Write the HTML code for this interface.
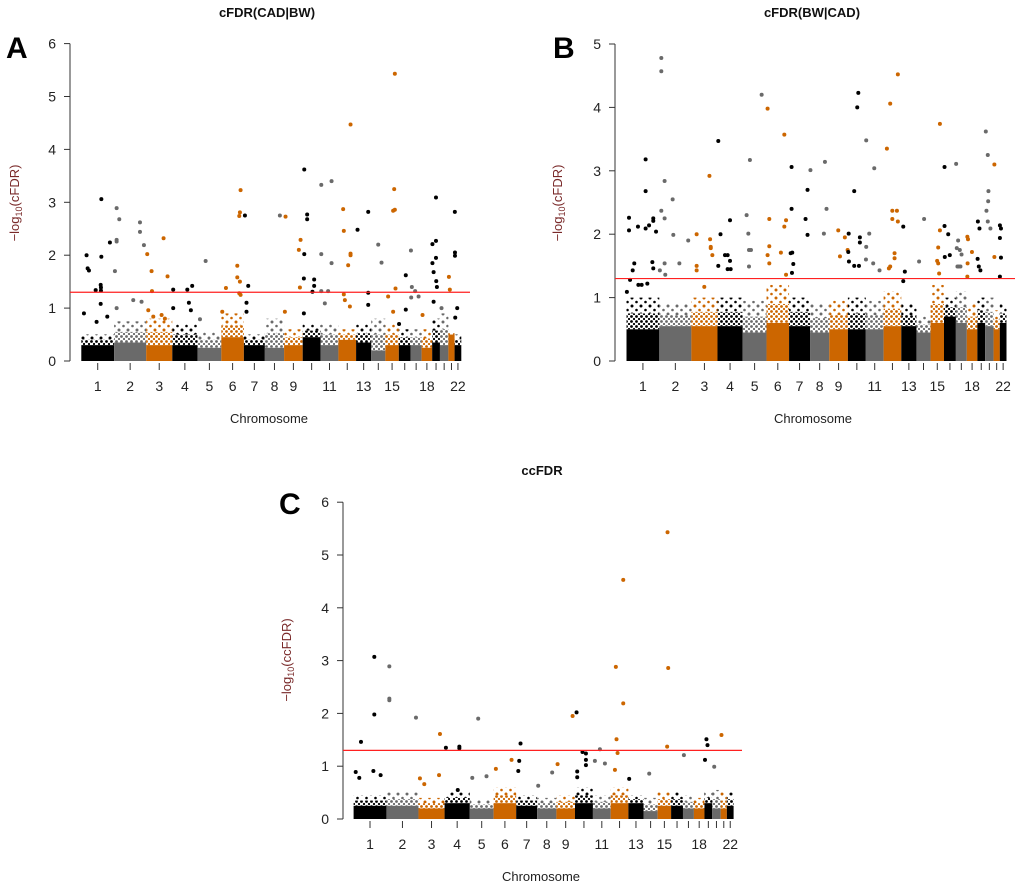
<!DOCTYPE html>
<html><head><meta charset="utf-8">
<style>
body{margin:0;background:#fff;}
svg{display:block;font-family:"Liberation Sans",Arial,sans-serif;}
</style></head>
<body>
<svg id="fig" width="1020" height="887" viewBox="0 0 1020 887">
<defs>
<pattern id="dots0" width="5" height="5" patternUnits="userSpaceOnUse"><circle cx="1.5" cy="1.5" r="1.4" fill="#000000"/><circle cx="4" cy="4" r="1.1" fill="#000000"/></pattern>
<pattern id="dots1" width="5" height="5" patternUnits="userSpaceOnUse"><circle cx="1.5" cy="1.5" r="1.4" fill="#6a6a6a"/><circle cx="4" cy="4" r="1.1" fill="#6a6a6a"/></pattern>
<pattern id="dots2" width="5" height="5" patternUnits="userSpaceOnUse"><circle cx="1.5" cy="1.5" r="1.4" fill="#cc6600"/><circle cx="4" cy="4" r="1.1" fill="#cc6600"/></pattern>
<pattern id="sparse0" width="9" height="8" patternUnits="userSpaceOnUse"><circle cx="2" cy="2" r="1.5" fill="#000000"/><circle cx="6.5" cy="6" r="1.3" fill="#000000"/></pattern>
<pattern id="sparse1" width="9" height="8" patternUnits="userSpaceOnUse"><circle cx="2" cy="2" r="1.5" fill="#6a6a6a"/><circle cx="6.5" cy="6" r="1.3" fill="#6a6a6a"/></pattern>
<pattern id="sparse2" width="9" height="8" patternUnits="userSpaceOnUse"><circle cx="2" cy="2" r="1.5" fill="#cc6600"/><circle cx="6.5" cy="6" r="1.3" fill="#cc6600"/></pattern>
</defs>
</svg>
<script>
// ---- data ----
const chromLengths = [249,243,198,191,181,171,159,146,141,136,135,134,115,107,102,90,83,80,59,64,47,51];
const chromLabels = ["1","2","3","4","5","6","7","8","9","","11","","13","","15","","","18","","","","22"];
const yTicksA = [0,1,2,3,4,5,6];
const yTicksB = [0,1,2,3,4,5];
const yTicksC = [0,1,2,3,4,5,6];
const threshold = 1.3;

const bulkA = [0.3,0.35,0.3,0.3,0.25,0.45,0.3,0.25,0.3,0.45,0.3,0.4,0.35,0.2,0.3,0.3,0.3,0.25,0.35,0.3,0.5,0.3];
const spreadA = [0.5,0.75,0.8,0.7,0.55,0.9,0.5,0.8,0.6,0.7,0.7,0.6,0.7,0.8,0.7,0.6,0.6,0.6,0.8,0.9,0.55,0.5];
const bulkB = [0.5,0.55,0.55,0.55,0.45,0.6,0.55,0.45,0.5,0.5,0.5,0.55,0.55,0.45,0.6,0.7,0.6,0.5,0.6,0.55,0.5,0.6];
const spreadB = [1.0,0.9,1.0,1.0,0.95,1.2,1.0,0.9,0.95,1.0,0.95,1.1,0.9,0.7,1.2,1.0,1.1,0.9,1.0,1.0,0.8,0.9];
const bulkC = [0.25,0.25,0.2,0.3,0.2,0.3,0.25,0.2,0.2,0.3,0.2,0.3,0.3,0.15,0.25,0.25,0.2,0.2,0.3,0.2,0.2,0.25];
const spreadC = [0.45,0.5,0.4,0.5,0.35,0.6,0.45,0.4,0.45,0.6,0.45,0.6,0.45,0.4,0.5,0.5,0.45,0.4,0.5,0.55,0.5,0.5];

const posA = [40,48,58,109,152,152,147,149,149,217,20,116,197,147,
 268,288,268,268,255,268,445,445,475,394,457,
 500,533,536,624,654,508,546,609,634,
 697,697,804,841,816,831,943,900,
 1097,1183,1208,1203,1198,1183,1203,1198,1208,1069,
 1241,1266,1253,1253,1506,1549,1544,1663,1650,1658,
 1691,1713,1713,1691,1688,1766,1766,1753,1688,
 1820,1820,1898,1898,1820,1872,1847,
 1986,1991,2042,2042,2024,2042,1991,1999,2037,
 2095,2176,2176,2176,2252,2277,
 2378,2373,2378,2365,2383,2327,2365,
 2461,2461,2410,2500,2507,2532,2558,2502,2588,
 2690,2690,2663,2690,2663,2672,2692,2697,2672,
 2732,2788,2795,2833,2834,2834,2851,2836];
const valA = [2.0,1.75,1.71,1.34,3.06,1.97,1.44,1.39,1.33,2.24,0.9,0.74,0.84,1.08,
 2.89,2.68,2.29,2.26,1.7,1.0,2.62,2.44,2.19,1.15,1.12,
 2.02,1.7,1.32,2.32,1.6,0.96,0.84,0.87,0.8,
 1.35,1.0,1.35,1.42,1.1,0.96,1.89,0.79,
 1.38,1.8,3.23,2.81,2.74,1.58,1.5,1.28,1.25,0.93,
 2.75,1.42,1.1,0.93,2.75,2.73,0.93,2.29,2.1,1.39,
 3.62,2.77,2.68,2.02,1.56,1.54,1.42,1.31,0.9,
 3.33,2.02,3.4,1.85,1.32,1.32,1.09,
 2.87,2.46,2.03,2.0,1.81,4.47,1.26,1.15,1.03,
 2.48,2.82,1.29,1.06,2.2,1.86,
 5.43,3.25,2.86,2.84,1.37,1.22,0.93,
 1.62,0.97,0.7,2.09,1.4,1.32,1.22,1.2,0.87,
 3.09,2.27,2.21,1.95,1.85,1.68,1.51,1.4,1.12,
 1.0,1.59,1.35,2.82,2.05,1.99,1.0,0.82];

const posB = [19,19,87,145,145,145,171,203,203,224,196,203,59,47,27,90,115,3,158,
 264,264,289,264,289,350,355,401,468,289,253,294,
 532,532,532,629,634,639,639,651,590,
 696,713,785,696,767,747,785,790,767,
 1025,936,911,924,929,944,929,
 1070,1083,1083,1070,1083,1171,1197,1210,1197,1210,
 1252,1252,1257,1245,1265,1255,
 1373,1358,1373,1395,1505,1517,1497,
 1606,1619,1656,
 1727,1750,1758,1685,1677,1682,1687,1727,1763,1770,1770,
 1818,1841,1818,1879,1871,1816,1919,
 2000,1975,2058,2016,2051,2016,2058,2033,2033,2000,1990,
 2099,2111,2099,2257,2219,
 2377,2377,2364,2356,2364,2371,
 2412,2412,2440,2414,2452,
 2500,2505,2515,2528,2533,2520,2510,2541,
 2585,2590,2620,2587,2585,
 2665,2677,2663,2672,2684,
 2725,2740,2745,2743,2730,2740,2760,2790,2790,
 2832,2840,2832,2840,2832];
const valB = [2.26,2.06,2.12,3.18,2.68,2.09,2.14,2.25,2.21,2.04,1.56,1.46,1.54,1.43,1.28,1.2,1.2,1.09,1.22,
 4.78,4.57,2.84,2.37,2.25,2.55,1.99,1.54,1.9,1.54,1.43,1.36,
 2.0,1.5,1.43,2.92,1.92,1.8,1.78,1.67,1.17,
 3.47,2.0,2.22,1.5,1.67,1.67,1.58,1.45,1.45,
 4.2,3.17,2.3,2.01,1.75,1.75,1.49,
 3.98,2.24,1.81,1.67,1.54,1.71,3.57,2.22,2.12,1.36,
 3.06,2.4,1.71,1.7,1.53,1.39,
 2.7,2.24,1.99,3.01,3.14,2.4,2.01,
 2.06,1.65,1.95,
 2.68,4.0,4.23,2.01,1.75,1.72,1.57,1.5,1.5,1.95,1.87,
 3.48,2.01,1.8,3.04,1.54,1.6,1.43,
 4.06,3.35,4.52,2.37,2.37,2.24,2.2,1.7,1.62,1.49,1.46,
 2.12,1.41,1.26,2.24,1.57,
 3.74,2.06,1.79,1.58,1.54,1.38,
 3.06,2.13,2.0,1.64,1.67,
 3.11,1.78,1.9,1.75,1.49,1.49,1.49,1.68,
 1.96,1.92,1.72,1.54,1.33,
 2.2,2.09,1.61,1.49,1.43,
 3.62,3.25,2.68,2.52,2.37,2.2,2.09,3.1,1.64,
 2.14,2.09,1.94,1.63,1.33];

const posC = [56,157,157,16,43,150,205,
 271,271,271,473,
 655,648,503,536,
 700,802,802,790,
 945,900,1008,1079,1198,
 1266,1256,1249,1400,1506,1547,1661,1691,
 1736,1762,1762,1762,1696,1696,
 1868,1830,1906,
 1989,2045,2045,1994,2002,1982,2090,2242,
 2381,2386,2378,2505,2676,2684,2665,2735,2790];
const valC = [1.46,1.98,3.07,0.89,0.78,0.91,0.83,
 2.89,2.28,2.25,1.92,
 1.61,0.83,0.77,0.66,
 1.35,1.37,1.34,0.55,
 1.9,0.78,0.81,0.95,1.12,
 1.43,1.1,0.91,0.63,0.88,1.04,1.95,2.02,
 1.27,1.24,1.12,1.02,0.9,0.79,
 1.32,1.1,1.05,
 2.88,4.53,2.19,1.51,1.25,0.93,0.76,0.86,
 5.43,2.86,1.37,1.21,1.51,1.4,1.12,0.99,1.59];

// ---- drawing ----
const NS = "http://www.w3.org/2000/svg";
const svg = document.getElementById('fig');
const colors = ["#000000","#6a6a6a","#cc6600"];
const cumStart = [];
let acc = 0;
for (const L of chromLengths) { cumStart.push(acc); acc += L; }
const genomeLen = acc;
function chromOf(p){ let c=0; for(let i=0;i<cumStart.length;i++){ if(p>=cumStart[i]) c=i; } return c; }

function mk(tag, attrs, parent){ const e=document.createElementNS(NS,tag); for(const k in attrs) e.setAttribute(k,attrs[k]); (parent||svg).appendChild(e); return e; }

function drawPanel(cfg){
  const g = mk('g',{});
  
  
  const xs = p => cfg.x0 + p*cfg.pxPerMb;
  const ys = v => cfg.y0 - v*cfg.pxPerUnit;
  const t = mk('text',{x:cfg.titleX,y:cfg.titleY,'text-anchor':'middle','font-size':13,'font-weight':'bold',fill:'#111'},g);
  t.textContent = cfg.title;
  
  
  const lt = mk('text',{x:cfg.letterX,y:cfg.letterY,'font-size':30,'font-weight':'bold',fill:'#000'},g);
  lt.textContent = cfg.letter;
  
  
  const ticks = cfg.yTicks;
  const ax = mk('line',{x1:cfg.axisX,x2:cfg.axisX,y1:ys(ticks[0]),y2:ys(ticks[ticks.length-1]),stroke:'#333','stroke-width':1},g);
  
  
  ticks.forEach(v=>{
    mk('line',{x1:cfg.axisX-6,x2:cfg.axisX,y1:ys(v),y2:ys(v),stroke:'#333'},g);
    const tl = mk('text',{x:cfg.axisX-14,y:ys(v)+5,'text-anchor':'end','font-size':14,fill:'#222'},g);
    tl.textContent = v;
    
    
  });
  const yt = mk('text',{transform:`translate(${cfg.yTitleX},${cfg.yTitleY}) rotate(-90)`,'text-anchor':'middle','font-size':13,fill:'#7a2a2a'},g);
  yt.innerHTML = '\u2212log<tspan font-size="9" dy="3">10</tspan><tspan dy="-3">(' + cfg.yLabel + ')</tspan>';
  
  
  chromLengths.forEach((L,i)=>{
    const x1 = xs(cumStart[i]), w = L*cfg.pxPerMb;
    const mid = (cfg.bulk[i]+cfg.spread[i])/2;
    const sp2 = mk('rect',{x:x1,y:ys(cfg.spread[i]),width:w,height:ys(mid)-ys(cfg.spread[i]),fill:'url(#sparse'+(i%3)+')'},g);
    
    
    const sp = mk('rect',{x:x1,y:ys(mid),width:w,height:ys(cfg.bulk[i])-ys(mid),fill:'url(#dots'+(i%3)+')'},g);
    
    
    const r = mk('rect',{x:x1,y:ys(cfg.bulk[i]),width:w,height:ys(0)-ys(cfg.bulk[i]),fill:colors[i%3]},g);
    
    
    const cx = xs(cumStart[i]+L/2);
    mk('line',{x1:cx,x2:cx,y1:cfg.y0+2,y2:cfg.y0+9,stroke:'#333'},g);
    if (chromLabels[i]) {
      const cl = mk('text',{x:cx,y:cfg.y0+30,'text-anchor':'middle','font-size':14,fill:'#222'},g);
      cl.textContent = chromLabels[i];
      
      
    }
  });
  cfg.pos.forEach((p,i)=>{
    const c = mk('circle',{cx:xs(p),cy:ys(cfg.val[i]),r:2,fill:colors[chromOf(p)%3]},g);
    
    
  });
  const th = mk('line',{x1:cfg.axisX,x2:cfg.lineEnd,y1:ys(threshold),y2:ys(threshold),stroke:'#ff2020','stroke-width':1.2},g);
  
  
  const xt = mk('text',{x:cfg.xTitleX,y:cfg.y0+62,'text-anchor':'middle','font-size':13,fill:'#222'},g);
  xt.textContent = 'Chromosome';
  
  
}

const S = 380/genomeLen;
drawPanel({name:'panel-a',title:'cFDR(CAD|BW)',titleX:267,titleY:17,letter:'A',letterX:6,letterY:58,
  axisX:70,x0:81.3,pxPerMb:S,y0:361,pxPerUnit:52.9,yTicks:yTicksA,yLabel:'cFDR',yTitleX:19,yTitleY:203,
  bulk:bulkA,spread:spreadA,pos:posA,val:valA,lineEnd:470,xTitleX:269});
drawPanel({name:'panel-b',title:'cFDR(BW|CAD)',titleX:812,titleY:17,letter:'B',letterX:553,letterY:58,
  axisX:615,x0:626.5,pxPerMb:S,y0:361,pxPerUnit:63.4,yTicks:yTicksB,yLabel:'cFDR',yTitleX:562,yTitleY:203,
  bulk:bulkB,spread:spreadB,pos:posB,val:valB,lineEnd:1015,xTitleX:813});
drawPanel({name:'panel-c',title:'ccFDR',titleX:542,titleY:475,letter:'C',letterX:279,letterY:514,
  axisX:343,x0:353.6,pxPerMb:S,y0:819,pxPerUnit:52.8,yTicks:yTicksC,yLabel:'ccFDR',yTitleX:291,yTitleY:660,
  bulk:bulkC,spread:spreadC,pos:posC,val:valC,lineEnd:742,xTitleX:541});
</script>
</body></html>
